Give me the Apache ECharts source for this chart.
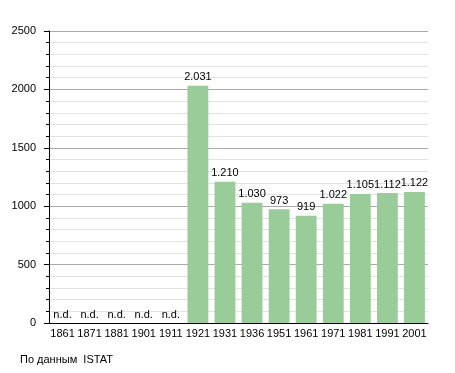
<!DOCTYPE html>
<html><head><meta charset="utf-8">
<script src="https://cdn.jsdelivr.net/npm/echarts@6/dist/echarts.min.js"></script>
<style>html,body{margin:0;padding:0;background:#fff}#c{width:455px;height:373px}</style>
</head><body><div id="c"></div>
<script>
const years = ['1861','1871','1881','1901','1911','1921','1931','1936','1951','1961','1971','1981','1991','2001'];
const population = [null,null,null,null,null,2031,1210,1030,973,919,1022,1105,1112,1122];
const yTicks = [0,500,1000,1500,2000,2500];
const source = 'По данным  ISTAT';

function fmt(v){return String(v).replace(/\B(?=(\d{3})+(?!\d))/g,'.');}
const seriesData = population.map(v => v === null
  ? {value:0, label:{formatter:'n.d.'}}
  : {value:v});

const chart = echarts.init(document.getElementById('c'), null, {renderer:'canvas'});
chart.setOption({
  animation:false,
  textStyle:{fontFamily:'Liberation Sans, Arial, sans-serif'},
  grid:{left:49, right:27, top:31, bottom:50, containLabel:false},
  xAxis:{type:'category', data:years,
    axisLine:{lineStyle:{color:'#000',width:1}}, axisTick:{show:false},
    axisLabel:{color:'#000', fontSize:11, margin:5, interval:0}},
  yAxis:{type:'value', min:yTicks[0], max:yTicks[yTicks.length-1], interval:500,
    axisLine:{show:true, lineStyle:{color:'#000'}},
    axisTick:{show:true, length:5, lineStyle:{color:'#000'}},
    minorTick:{show:true, splitNumber:5, length:3, lineStyle:{color:'#000'}},
    splitLine:{show:true, lineStyle:{color:'#aaaaaa', width:1}},
    minorSplitLine:{show:true, lineStyle:{color:'#e2e2e2', width:1}},
    axisLabel:{color:'#000', fontSize:11, margin:13, formatter:v=>String(v)}},
  series:[{type:'bar', data:seriesData, barCategoryGap:'23%',
    itemStyle:{color:'#99cc99'},
    label:{show:true, position:'top', distance:3, color:'#000', fontSize:11,
      formatter:p=>fmt(p.value)}}],
  graphic:[{type:'text', left:20, top:354, style:{text:source, fill:'#000', fontSize:11, fontFamily:'Liberation Sans, Arial, sans-serif'}}]
});
</script></body></html>
